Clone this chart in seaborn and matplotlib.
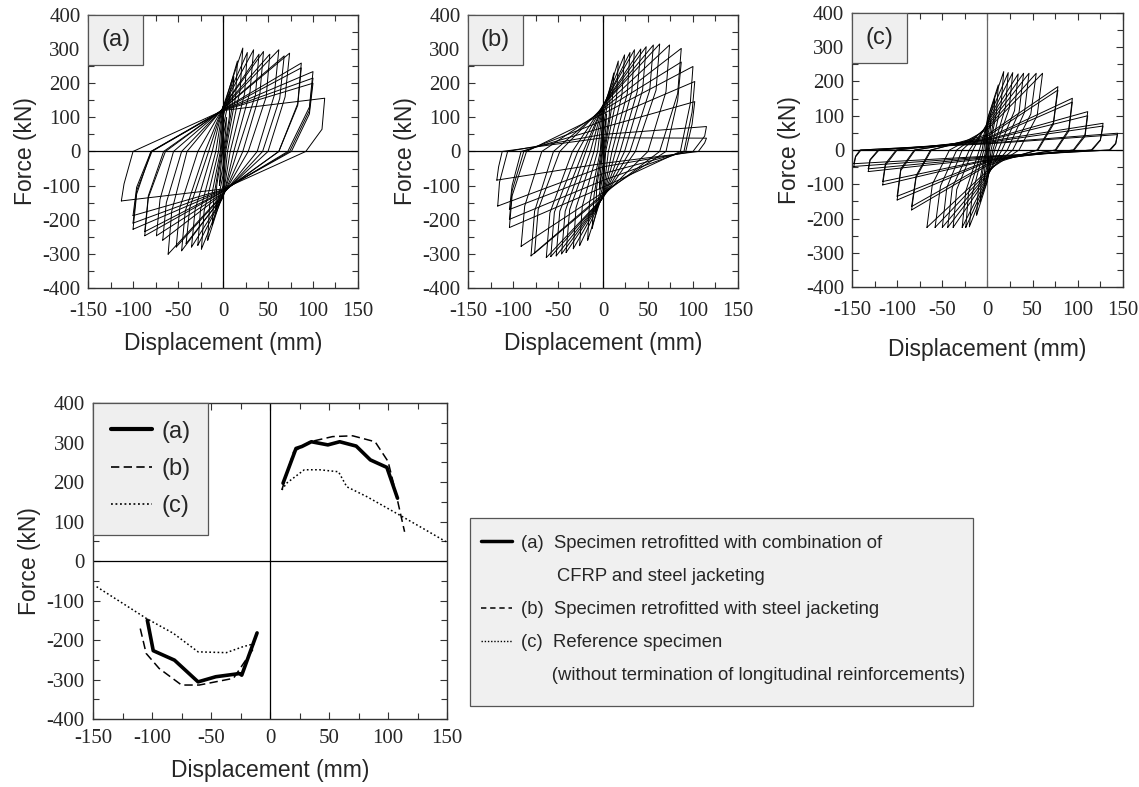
import pandas as pd
import matplotlib
matplotlib.use('Agg')
import matplotlib.pyplot as plt
import seaborn as sns
from matplotlib.ticker import MultipleLocator
from matplotlib.lines import Line2D
from matplotlib.patches import Rectangle

# hysteresis loops, one entry per cycle
# (a) CFRP + steel jacketing
a_pos_disp = [4, 8, 12, 16, 22, 27, 34, 40, 45, 52, 62, 68, 74, 87, 87, 100, 100, 100, 113]
a_pos_force = [100, 170, 220, 265, 303, 290, 298, 285, 293, 285, 298, 280, 288, 259, 245, 234, 215, 200, 156]
a_pos_knee_disp = [3, 7, 10, 14, 19, 24, 30, 36, 41, 48, 57, 63, 69, 83, 83, 96, 96, 96, 110]
a_pos_knee = [60, 100, 130, 160, 180, 170, 175, 165, 170, 160, 165, 155, 160, 140, 135, 130, 120, 110, 65]
a_neg_disp = [-4, -8, -12, -17, -24, -28, -35, -41, -46, -52, -61, -67, -74, -87, -87, -100, -100, -100, -113]
a_neg_force = [-100, -170, -215, -260, -286, -275, -280, -270, -291, -280, -301, -260, -247, -247, -235, -228, -210, -188, -145]
a_neg_knee_disp = [-3, -7, -10, -15, -21, -25, -31, -37, -42, -48, -57, -63, -70, -83, -83, -96, -96, -96, -110]
a_neg_knee = [-60, -100, -130, -160, -175, -170, -170, -165, -175, -165, -175, -150, -140, -135, -130, -125, -115, -105, -95]
a_pos_zero = [0.5, 1, 2, 3, 5, 8, 12, 16, 22, 28, 38, 44, 50, 62, 62, 72, 74, 76, 92]
a_neg_zero = [-0.5, -1, -2, -3, -5, -8, -12, -16, -20, -28, -40, -46, -55, -64, -66, -80, -79, -80, -100]
a_up = [40, 70, 100, 120, 130, 130, 132, 130, 130, 128, 127, 126, 125, 124, 123, 122, 121, 120, 120]
a_down = [-40, -70, -100, -120, -130, -130, -135, -132, -130, -128, -125, -124, -122, -118, -117, -115, -113, -112, -110]

# (b) steel jacketing
b_pos_disp = [4, 8, 12, 17, 24, 30, 35, 42, 48, 56, 63, 74, 87, 87, 100, 102, 102, 115, 115]
b_pos_force = [110, 180, 230, 265, 283, 290, 298, 300, 307, 312, 315, 312, 302, 262, 249, 205, 146, 73, 39]
b_pos_knee_disp = [3, 7, 10, 15, 21, 27, 32, 38, 44, 52, 59, 70, 83, 83, 97, 99, 99, 113, 113]
b_pos_knee = [65, 105, 135, 155, 165, 170, 175, 175, 180, 180, 180, 175, 170, 150, 140, 115, 80, 45, 25]
b_neg_disp = [-4, -8, -12, -17, -26, -33, -41, -46, -52, -58, -63, -76, -80, -91, -104, -104, -104, -117, -118]
b_neg_force = [-110, -180, -225, -260, -276, -285, -296, -300, -306, -308, -311, -298, -306, -278, -223, -199, -170, -160, -84]
b_neg_knee_disp = [-3, -7, -10, -15, -23, -30, -37, -42, -48, -54, -59, -72, -76, -87, -101, -101, -101, -115, -116]
b_neg_knee = [-65, -105, -130, -150, -160, -165, -170, -175, -175, -178, -180, -170, -175, -160, -130, -115, -100, -90, -45]
b_pos_zero = [0.5, 1, 2, 3, 6, 10, 14, 19, 24, 30, 36, 50, 63, 70, 86, 90, 92, 100, 106]
b_neg_zero = [-0.5, -1, -2, -3, -6, -10, -14, -19, -22, -28, -34, -48, -55, -68, -85, -88, -91, -106, -112]
b_up = [40, 70, 100, 120, 130, 132, 135, 135, 135, 135, 135, 130, 125, 120, 110, 90, 70, 50, 40]
b_down = [-40, -70, -100, -120, -130, -132, -135, -135, -135, -135, -135, -130, -125, -120, -105, -85, -65, -45, -35]

# (c) reference specimen
c_pos_disp = [4, 8, 12, 18, 23, 28, 34, 40, 46, 54, 61, 78, 78, 94, 94, 111, 111, 128, 128, 144, 144]
c_pos_force = [90, 150, 190, 229, 226, 226, 222, 224, 224, 224, 224, 185, 175, 151, 140, 112, 100, 78, 70, 49, 45]
c_pos_knee_disp = [3, 7, 10, 15, 20, 24, 30, 35, 41, 48, 55, 73, 73, 90, 90, 108, 108, 125, 125, 142, 142]
c_pos_knee = [55, 90, 110, 130, 125, 120, 115, 110, 110, 105, 100, 80, 75, 60, 55, 45, 40, 30, 28, 20, 18]
c_neg_disp = [-4, -8, -12, -20, -24, -28, -38, -44, -50, -58, -67, -84, -84, -100, -100, -116, -116, -132, -132, -148, -148]
c_neg_force = [-90, -150, -190, -224, -226, -226, -226, -226, -226, -226, -226, -175, -165, -146, -135, -102, -92, -63, -55, -48, -40]
c_neg_knee_disp = [-3, -7, -10, -17, -21, -24, -34, -39, -45, -52, -61, -79, -79, -96, -96, -113, -113, -130, -130, -146, -146]
c_neg_knee = [-55, -90, -110, -130, -125, -120, -115, -110, -110, -105, -100, -80, -75, -60, -55, -45, -40, -30, -28, -20, -18]
c_pos_zero = [0.5, 1, 2, 4, 6, 8, 12, 16, 22, 28, 35, 55, 56, 75, 76, 95, 96, 115, 116, 135, 136]
c_neg_zero = [-0.5, -1, -2, -4, -6, -9, -16, -20, -28, -34, -42, -62, -63, -80, -81, -100, -101, -120, -121, -140, -141]
c_up = [40, 70, 90, 90, 85, 80, 80, 75, 70, 65, 60, 45, 40, 35, 32, 30, 28, 25, 22, 20, 18]
c_down = [-40, -70, -90, -90, -85, -80, -80, -75, -70, -65, -60, -45, -40, -35, -32, -30, -28, -25, -22, -20, -18]

# envelope curves
env_a_pos_x = [11, 22, 27, 35, 49, 59, 73, 85, 99, 108]
env_a_pos_y = [197, 285, 290, 302, 294, 302, 291, 256, 237, 159]
env_a_neg_x = [-104, -99, -81, -61, -46, -26, -24, -11]
env_a_neg_y = [-150, -227, -251, -306, -293, -285, -289, -182]
env_b_pos_x = [10, 20, 34, 53, 70, 89, 100, 106, 114]
env_b_pos_y = [180, 277, 302, 315, 317, 302, 252, 180, 74]
env_b_neg_x = [-110, -105, -94, -75, -60, -31, -13]
env_b_neg_y = [-171, -234, -272, -314, -314, -297, -217]
env_c_pos_x = [10, 14, 29, 42, 58, 65, 82, 107, 127, 149]
env_c_pos_y = [180, 197, 231, 231, 226, 188, 163, 121, 87, 49]
env_c_neg_x = [-147, -105, -82, -61, -37, -23, -13]
env_c_neg_y = [-65, -145, -183, -230, -232, -217, -209]

legend_texts = ['(a)  Specimen retrofitted with combination of',
                '       CFRP and steel jacketing',
                '(b)  Specimen retrofitted with steel jacketing',
                '(c)  Reference specimen',
                '      (without termination of longitudinal reinforcements)']

sns.set_theme(style='white')
plt.rcParams['font.family'] = ['Liberation Sans', 'DejaVu Sans']
plt.rcParams['axes.unicode_minus'] = False

SERIF = 'Liberation Serif'


def loop_table(pos_disp, pos_force, pos_knee_disp, pos_knee, neg_disp, neg_force, neg_knee_disp, neg_knee,
               pos_zero, neg_zero, up, down):
    rows = []
    for i in range(len(pos_disp)):
        path = [(neg_disp[i], neg_force[i]), (neg_knee_disp[i], neg_knee[i]), (neg_zero[i], 0), (0, up[i]),
                (pos_disp[i], pos_force[i]), (pos_knee_disp[i], pos_knee[i]), (pos_zero[i], 0), (0, down[i]),
                (neg_disp[i], neg_force[i])]
        for d, f in path:
            rows.append((i, d, f))
    return pd.DataFrame(rows, columns=['cycle', 'disp', 'force'])


def style_axes(ax, xpad, ypad, xlabpad, ylabpad, vcolor='black'):
    ax.set_xlim(-150, 150)
    ax.set_ylim(-400, 400)
    ax.xaxis.set_major_locator(MultipleLocator(50))
    ax.xaxis.set_minor_locator(MultipleLocator(25))
    ax.yaxis.set_major_locator(MultipleLocator(100))
    ax.yaxis.set_minor_locator(MultipleLocator(50))
    ax.tick_params(which='both', direction='in', top=True, right=True, bottom=True, left=True,
                   color='#333333', width=0.8, labelsize=15, labelfontfamily=SERIF)
    ax.tick_params(which='major', length=5)
    ax.tick_params(which='minor', length=4)
    ax.tick_params(axis='x', pad=xpad)
    ax.tick_params(axis='y', pad=ypad)
    for s in ax.spines.values():
        s.set_color('#333333')
        s.set_linewidth(1.0)
    ax.axhline(0, color='black', lw=0.9, zorder=1)
    ax.axvline(0, color=vcolor, lw=0.9, zorder=1)
    ax.set_xlabel('Displacement (mm)', fontsize=16.5, labelpad=xlabpad)
    ax.set_ylabel('Force (kN)', fontsize=16.5, labelpad=ylabpad)


def tag(ax, text, w, h):
    ax.add_patch(Rectangle((0, 1 - h), w, h, transform=ax.transAxes, fc='#efefef',
                           ec='#555555', lw=0.9, zorder=4))
    ax.text(w / 2, 1 - h / 2, text, transform=ax.transAxes, ha='center', va='center',
            fontsize=17, zorder=5)


fig = plt.figure(figsize=(11.39, 7.87), dpi=100)

panels = [
    ('(a)', [0.0773, 0.6341, 0.2370, 0.3469], 8, 'black',
     (a_pos_disp, a_pos_force, a_pos_knee_disp, a_pos_knee, a_neg_disp, a_neg_force, a_neg_knee_disp, a_neg_knee,
      a_pos_zero, a_neg_zero, a_up, a_down)),
    ('(b)', [0.4109, 0.6341, 0.2370, 0.3469], 8, 'black',
     (b_pos_disp, b_pos_force, b_pos_knee_disp, b_pos_knee, b_neg_disp, b_neg_force, b_neg_knee_disp, b_neg_knee,
      b_pos_zero, b_neg_zero, b_up, b_down)),
    ('(c)', [0.7480, 0.6353, 0.2379, 0.3482], 13, '#666666',
     (c_pos_disp, c_pos_force, c_pos_knee_disp, c_pos_knee, c_neg_disp, c_neg_force, c_neg_knee_disp, c_neg_knee,
      c_pos_zero, c_neg_zero, c_up, c_down)),
]

for name, rect, xlabpad, vcolor, series in panels:
    ax = fig.add_axes(rect)
    df = loop_table(*series)
    sns.lineplot(data=df, x='disp', y='force', units='cycle', estimator=None, sort=False,
                 color='black', lw=0.7, ax=ax, zorder=2)
    style_axes(ax, xpad=10, ypad=5.5, xlabpad=xlabpad, ylabpad=4, vcolor=vcolor)
    tag(ax, name, 0.204, 0.183)

# envelope panel
env_rows = []
for spec, branch, xs, ys in [('(a)', 'pos', env_a_pos_x, env_a_pos_y), ('(a)', 'neg', env_a_neg_x, env_a_neg_y),
                             ('(b)', 'pos', env_b_pos_x, env_b_pos_y), ('(b)', 'neg', env_b_neg_x, env_b_neg_y),
                             ('(c)', 'pos', env_c_pos_x, env_c_pos_y), ('(c)', 'neg', env_c_neg_x, env_c_neg_y)]:
    for x, y in zip(xs, ys):
        env_rows.append((spec, branch, x, y))
env = pd.DataFrame(env_rows, columns=['spec', 'branch', 'disp', 'force'])

axd = fig.add_axes([0.0817, 0.0864, 0.3108, 0.4015])
sns.lineplot(data=env, x='disp', y='force', style='spec', size='spec', units='branch',
             estimator=None, sort=False, color='black',
             dashes={'(a)': '', '(b)': (5.5, 2.8), '(c)': (1.1, 1.6)},
             sizes={'(a)': 2.6, '(b)': 1.1, '(c)': 1.1}, legend=False, ax=axd, zorder=3)
style_axes(axd, xpad=7, ypad=6, xlabpad=8, ylabpad=4)

handles = [Line2D([], [], color='black', lw=3),
           Line2D([], [], color='black', lw=1.2, dashes=(5, 2.6)),
           Line2D([], [], color='black', lw=1.2, dashes=(1.1, 1.6))]
leg = axd.legend(handles, ['(a)', '(b)', '(c)'], loc='upper left', bbox_to_anchor=(0, 0.592, 0.325, 0.408),
                 mode='expand', borderaxespad=0, fontsize=17, handlelength=1.75, handletextpad=0.4,
                 labelspacing=0.65, borderpad=0.75, fancybox=False, framealpha=1,
                 facecolor='#efefef', edgecolor='#555555')
leg.get_frame().set_linewidth(0.9)

# big legend box: grey panel plus a frameless legend inside it
fig.patches.append(Rectangle((0.4127, 0.1029), 0.4416, 0.2389, transform=fig.transFigure,
                             fc='#f0f0f0', ec='#555555', lw=0.9, zorder=1))
big_handles = [Line2D([], [], color='black', lw=2.5),
               Line2D([], [], color='none'),
               Line2D([], [], color='black', lw=1.1, dashes=(3.5, 2.5)),
               Line2D([], [], color='black', lw=1.0, dashes=(1.0, 1.3)),
               Line2D([], [], color='none')]
big = fig.legend(big_handles, legend_texts, loc='upper left', bbox_to_anchor=(0.4220, 0.3204),
                 borderaxespad=0, borderpad=0, handlelength=1.72, handletextpad=0.46,
                 labelspacing=0.87, frameon=False,
                 prop={'family': ['Liberation Sans'], 'size': 13.3})
big.set_zorder(2)

fig.savefig('out.png', dpi=100)
